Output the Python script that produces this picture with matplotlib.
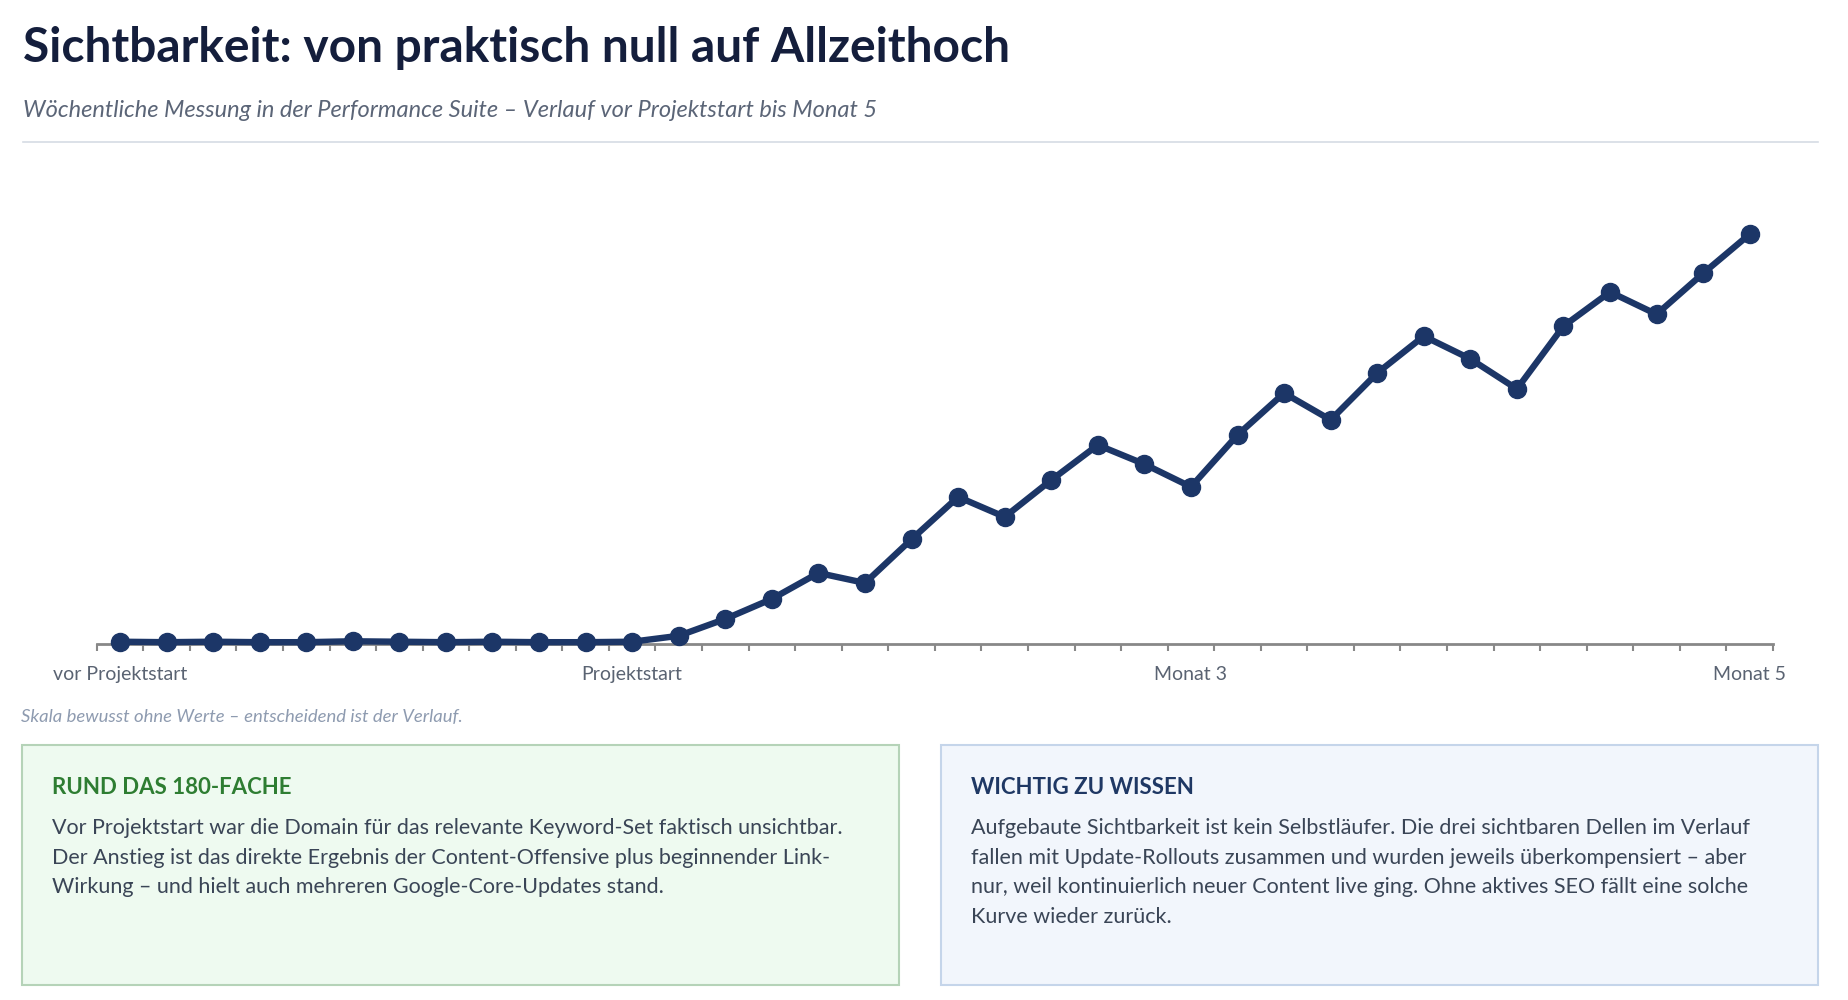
import numpy as np
import matplotlib
matplotlib.use("Agg")
import matplotlib.pyplot as plt
from matplotlib.patches import Rectangle
from matplotlib.lines import Line2D

plt.rcParams['font.family'] = ['Lato', 'DejaVu Sans']

# weekly visibility index (scale intentionally hidden)
weeks = np.arange(36)
visibility = [0.05, 0.04, 0.05, 0.04, 0.04, 0.06, 0.05, 0.04, 0.05, 0.04, 0.04, 0.05,
              0.18, 0.55, 0.99, 1.56, 1.34, 2.30, 3.23, 2.79, 3.60, 4.37, 3.95, 3.45,
              4.59, 5.51, 4.92, 5.95, 6.76, 6.26, 5.60, 6.98, 7.73, 7.24, 8.14, 9.00]
label_weeks = [0, 11, 23, 35]
label_names = ["vor Projektstart", "Projektstart", "Monat 3", "Monat 5"]

title = "Sichtbarkeit: von praktisch null auf Allzeithoch"
subtitle = "Wöchentliche Messung in der Performance Suite – Verlauf vor Projektstart bis Monat 5"
note = "Skala bewusst ohne Werte – entscheidend ist der Verlauf."

left_head = "RUND DAS 180-FACHE"
left_lines = [
    "Vor Projektstart war die Domain für das relevante Keyword-Set faktisch unsichtbar.",
    "Der Anstieg ist das direkte Ergebnis der Content-Offensive plus beginnender Link-",
    "Wirkung – und hielt auch mehreren Google-Core-Updates stand.",
]
right_head = "WICHTIG ZU WISSEN"
right_lines = [
    "Aufgebaute Sichtbarkeit ist kein Selbstläufer. Die drei sichtbaren Dellen im Verlauf",
    "fallen mit Update-Rollouts zusammen und wurden jeweils überkompensiert – aber",
    "nur, weil kontinuierlich neuer Content live ging. Ohne aktives SEO fällt eine solche",
    "Kurve wieder zurück.",
]

W, H = 1849, 1000
fig = plt.figure(figsize=(W / 100, H / 100), dpi=100)
fig.patch.set_facecolor("white")

def fx(px):
    return px / W

def fy(py):
    return 1 - py / H

# header
fig.text(fx(23), fy(62), title, fontsize=34.5, weight="bold", color="#141e3c", va="baseline")
fig.text(fx(23), fy(117), subtitle, fontsize=17, style="italic", color="#5b6577", va="baseline")
fig.add_artist(Line2D([fx(23), fx(1818)], [fy(142), fy(142)], color="#d6dce4", lw=1.2))

# chart
ax = fig.add_axes([fx(96.7), fy(644), fx(1773) - fx(96.7), fy(200) - fy(644)])
ax.plot(weeks, visibility, color="#1c3667", lw=4.6, marker="o", ms=13,
        solid_joinstyle="round", clip_on=False, zorder=3)
ax.set_xlim(-0.5, 35.5)
ax.set_ylim(0, 9.75)
for s in ["top", "right", "left"]:
    ax.spines[s].set_visible(False)
ax.spines["bottom"].set_color("#888888")
ax.spines["bottom"].set_linewidth(2)
ax.set_yticks([])
ax.set_xticks(label_weeks)
ax.set_xticklabels(label_names)
ax.set_xticks(np.arange(-0.5, 36, 1), minor=True)
ax.tick_params(axis="x", which="major", length=0, pad=16, labelsize=14, labelcolor="#5a6372")
ax.tick_params(axis="x", which="minor", length=5, width=1.5, color="#888888", direction="out")

fig.text(fx(21), fy(717), note, fontsize=13.3, style="italic", color="#8e9bb0", va="center")

# info boxes
boxes = [
    (22, "#eefaf0", "#b5d3b8", left_head, "#2e7d32", left_lines),
    (941, "#f2f6fc", "#c5d5ea", right_head, "#1f3864", right_lines),
]
for bx, fc, ec, head, hc, lines in boxes:
    fig.add_artist(Rectangle((fx(bx), fy(985)), fx(877), 240 / H, transform=fig.transFigure,
                             facecolor=fc, edgecolor=ec, lw=1.5))
    fig.text(fx(bx + 30), fy(788), head, fontsize=16, weight="bold", color=hc, va="center")
    for i, line in enumerate(lines):
        fig.text(fx(bx + 30), fy(828 + 29.6 * i), line, fontsize=15.5, color="#3a4556", va="center")

fig.savefig("out.png", dpi=100)
